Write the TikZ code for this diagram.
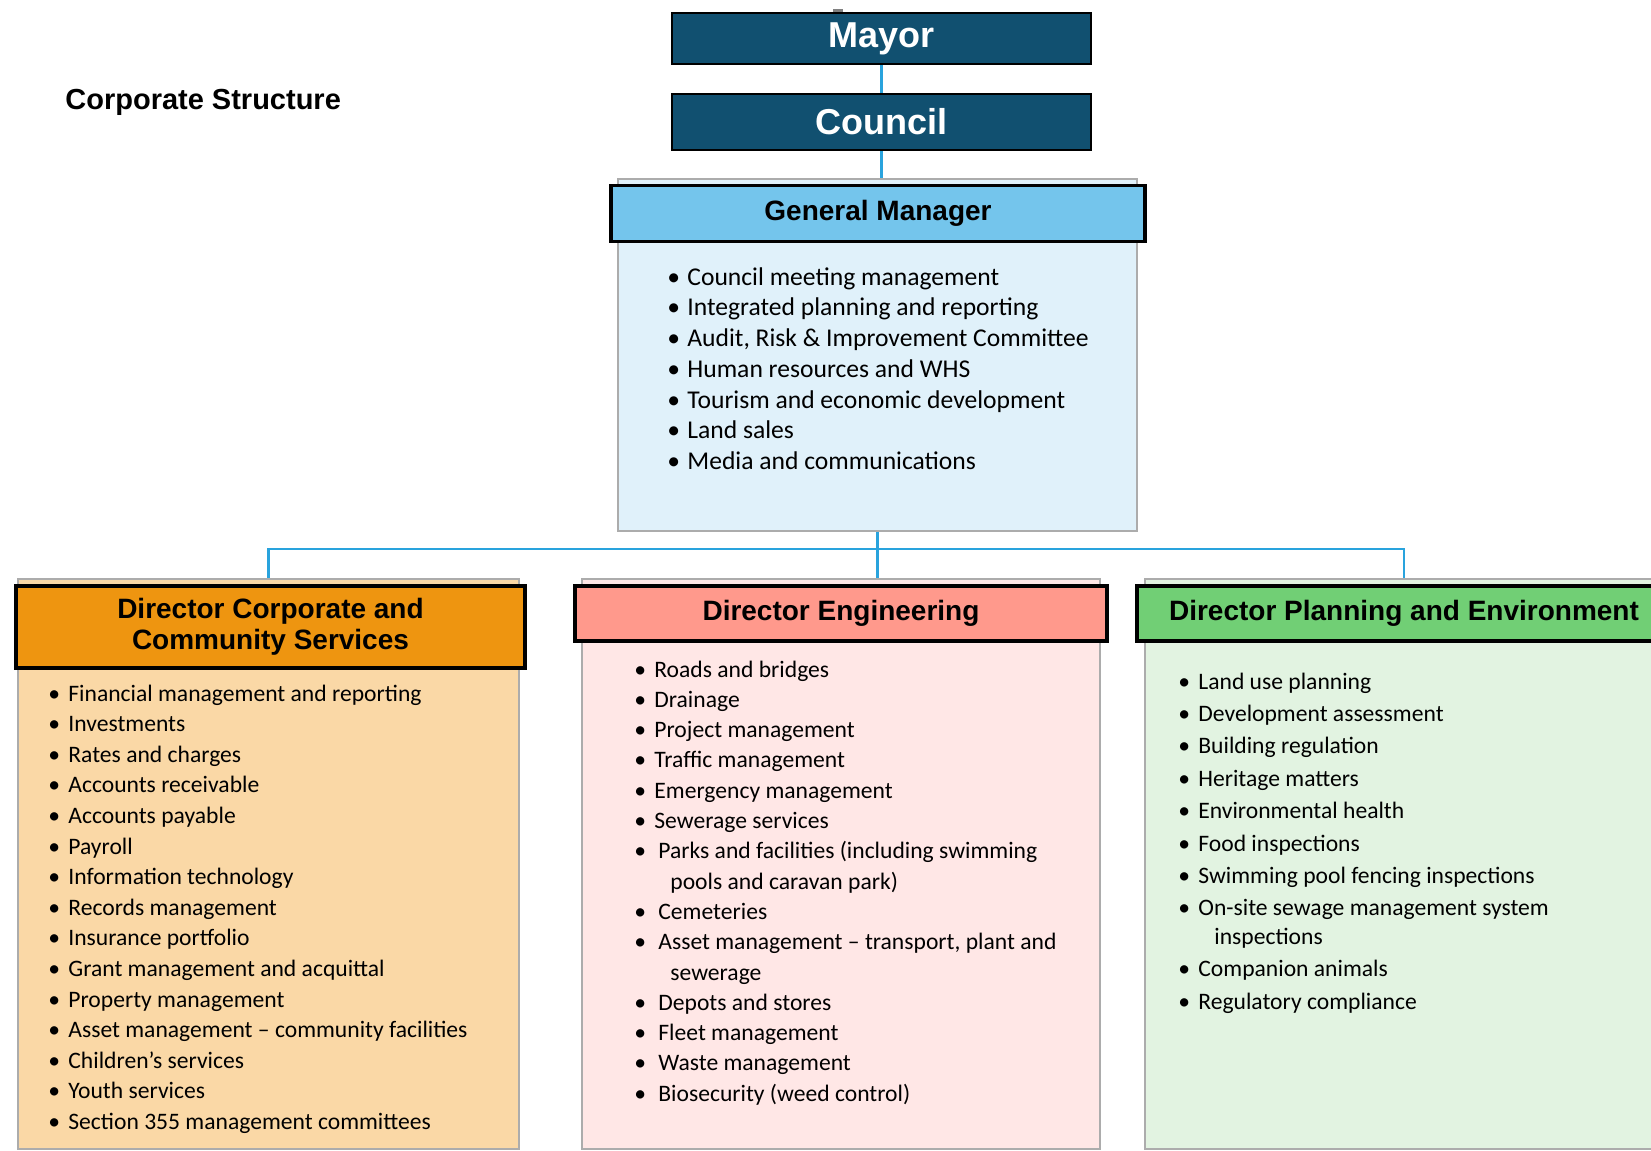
\documentclass[tikz,border=0pt]{standalone}
\usepackage{fontspec}
\setmainfont{Carlito}
\newfontfamily\headfont{Liberation Sans}
\usetikzlibrary{positioning}
\definecolor{mayorblue}{RGB}{17,80,112}
\definecolor{linkblue}{RGB}{41,163,221}
\definecolor{gmhead}{RGB}{116,197,236}
\definecolor{gmfill}{RGB}{224,241,250}
\definecolor{cshead}{RGB}{238,149,16}
\definecolor{csfill}{RGB}{250,216,166}
\definecolor{enghead}{RGB}{255,153,140}
\definecolor{engfill}{RGB}{255,231,230}
\definecolor{plhead}{RGB}{113,207,117}
\definecolor{plfill}{RGB}{226,243,225}
\newcommand{\bul}{\makebox[10pt][l]{\textbullet}}

\begin{document}
\begin{tikzpicture}[x=0.5pt,y=-0.5pt,
                every node/.style={align=center, inner sep=0pt},
                top/.style={draw=black, line width=1pt, fill=mayorblue, text=white, minimum width=209.5pt, font=\headfont\bfseries\fontsize{18}{20}\selectfont},
                head/.style={draw=black, line width=1.6pt, font=\headfont\bfseries\fontsize{14}{15.5}\selectfont},
                body/.style={draw=gray!65, line width=1.3pt, minimum height=285pt},
                list/.style={anchor=base west, font=\fontsize{11.8}{15.3}\selectfont},
                link/.style={draw=linkblue, line width=1.3pt}
                ]
                \useasboundingbox (0,0) rectangle (1651,1151);
                \fill[gray] (833,9) rectangle (843,13);
                \node[anchor=west, font=\headfont\bfseries\fontsize{14.5}{16}\selectfont] (title) at (65,102) {Corporate Structure};
                \node[top, minimum height=25.5pt] (mayor) at (881.5,38.5) {Mayor};
                \node[top, minimum height=28pt, below=14pt of mayor] (council) {Council};

                \node[body, fill=gmfill, minimum width=259.5pt, minimum height=176pt] (gmbody) at (877.5,355) {};
                \node[head, fill=gmhead, minimum width=267pt, minimum height=28pt] (gm) at (878,213.5) {General Manager};
                \node[list, font=\fontsize{12.8}{15.4}\selectfont] (gmlist) at (667,285) {\begin{tabular}[t]{@{}l@{}}
                  \bul Council meeting management\\
                  \bul Integrated planning and reporting\\
                  \bul Audit, Risk \& Improvement Committee\\
                  \bul Human resources and WHS\\
                  \bul Tourism and economic development\\
                  \bul Land sales\\
                  \bul Media and communications
                \end{tabular}};

                \node[body, fill=csfill, minimum width=250.5pt] (csbody) at (268.5,864) {};
                \node[head, fill=cshead, minimum width=254.5pt, minimum height=41pt] (cs) at (270.5,627) {Director Corporate and\\Community Services};
                \node[list] (cslist) at (48,701) {\begin{tabular}[t]{@{}l@{}}
                  \bul Financial management and reporting\\
                  \bul Investments\\
                  \bul Rates and charges\\
                  \bul Accounts receivable\\
                  \bul Accounts payable\\
                  \bul Payroll\\
                  \bul Information technology\\
                  \bul Records management\\
                  \bul Insurance portfolio\\
                  \bul Grant management and acquittal\\
                  \bul Property management\\
                  \bul Asset management -- community facilities\\
                  \bul Children’s services\\
                  \bul Youth services\\
                  \bul Section 355 management committees
                \end{tabular}};

                \node[body, fill=engfill, minimum width=259pt] (engbody) at (841,864) {};
                \node[head, fill=enghead, minimum width=266pt, minimum height=27.5pt] (eng) at (841,613.5) {Director Engineering};
                \node[list, font=\fontsize{11.8}{15.15}\selectfont] (englist) at (634,677) {\begin{tabular}[t]{@{}l@{}}
                  \bul Roads and bridges\\
                  \bul Drainage\\
                  \bul Project management\\
                  \bul Traffic management\\
                  \bul Emergency management\\
                  \bul Sewerage services\\
                  \bul\hspace{2pt}Parks and facilities (including swimming\\
                  \hspace{18pt}pools and caravan park)\\
                  \bul\hspace{2pt}Cemeteries\\
                  \bul\hspace{2pt}Asset management -- transport, plant and\\
                  \hspace{18pt}sewerage\\
                  \bul\hspace{2pt}Depots and stores\\
                  \bul\hspace{2pt}Fleet management\\
                  \bul\hspace{2pt}Waste management\\
                  \bul\hspace{2pt}Biosecurity (weed control)
                \end{tabular}};

                \node[body, fill=plfill, minimum width=259pt] (plbody) at (1404,864) {};
                \node[head, fill=plhead, minimum width=267pt, minimum height=27.5pt] (pl) at (1404,613.5) {Director Planning and Environment};
                \node[list, font=\fontsize{11.8}{16.2}\selectfont] (pllist) at (1178,689) {\begin{tabular}[t]{@{}l@{}}
                  \bul Land use planning\\
                  \bul Development assessment\\
                  \bul Building regulation\\
                  \bul Heritage matters\\
                  \bul Environmental health\\
                  \bul Food inspections\\
                  \bul Swimming pool fencing inspections\\
                  \bul On-site sewage management system\\[-2pt]
                  \hspace{18pt}inspections\\
                  \bul Companion animals\\
                  \bul Regulatory compliance
                \end{tabular}};

                \coordinate (bus) at (877.5,549);
                \draw[link] (mayor) -- (council);
                \draw[link] (council) -- (council |- gmbody.north);
                \draw[link] (gmbody.south) -- (bus) -- (bus |- engbody.north);
                \draw[link] (csbody.north) |- (bus) -| (plbody.north);
        \end{tikzpicture}
\end{document}
